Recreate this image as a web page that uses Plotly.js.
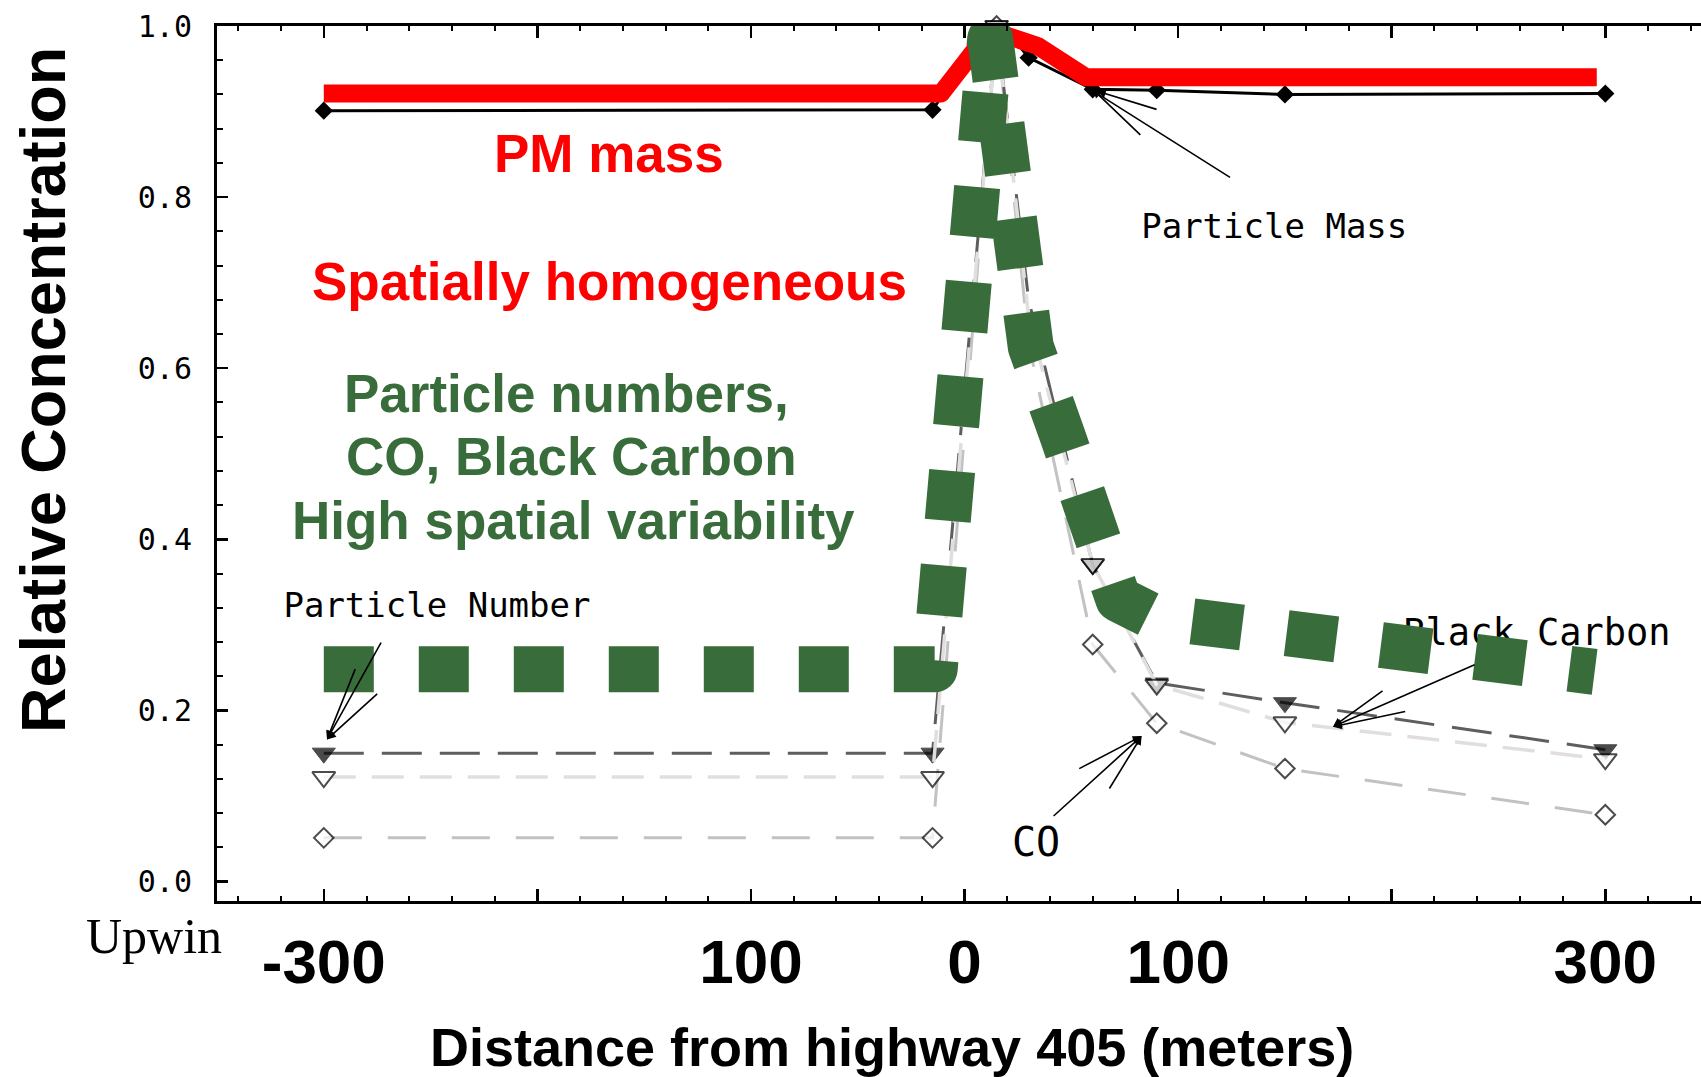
<!DOCTYPE html>
<html>
<head>
<meta charset="utf-8">
<script src="https://cdn.plot.ly/plotly-3.0.1.min.js"></script>
<style>
html,body{margin:0;padding:0;background:#ffffff;}
#chart{width:1701px;height:1077px;}
</style>
</head>
<body>
<div id="chart"></div>
<script>
// ---- data ----
const distance = [-300, -15, 15, 30, 60, 90, 150, 300];
const particleMass = [0.901, 0.902, 1.01, 0.963, 0.926, 0.925, 0.920, 0.921];
const particleNumber = [0.150, 0.150, 1.0, 0.68, 0.370, 0.232, 0.209, 0.154];
const blackCarbon = [0.122, 0.122, 1.0, 0.66, 0.371, 0.230, 0.186, 0.143];
const carbonMonoxide = [0.051, 0.051, 1.0, 0.63, 0.277, 0.185, 0.132, 0.078];

// hand-drawn highlight curves
const pmHighlightX = [-300, -11, 12, 34, 57, 296];
const pmHighlightY = [0.921, 0.921, 0.995, 0.977, 0.940, 0.940];
const ufpHighlightX = [-300, -14, 12, 17, 23, 31, 46, 59, 72, 88, 125, 168, 211, 255, 295];
const ufpHighlightY = [0.248, 0.248, 0.985, 0.86, 0.735, 0.625, 0.52, 0.415, 0.33, 0.31, 0.297, 0.284, 0.272, 0.258, 0.245];

const xTickVals = [-300, -200, -100, 0, 100, 200, 300];
const xTickText = ['-300', '', '100', '0', '100', '', '300'];
const yTickVals = [0, 0.2, 0.4, 0.6, 0.8, 1.0];
const yTickText = ['0.0', '0.2', '0.4', '0.6', '0.8', '1.0'];

const seriesLabels = ['Particle Mass', 'Particle Number', 'Black Carbon', 'CO'];

// ---- styles ----
const GREEN = '#386c3b';
const RED = '#ff0000';
const SANS = 'Liberation Sans, Arial, sans-serif';
const MONO = 'DejaVu Sans Mono, monospace';
// markers at the 30 m point of the thin gas/number series are hidden in the reference
const hiddenAt30 = function (s) { return distance.map(function (d) { return d === 30 ? 0 : s; }); };

const traces = [
  {
    x: distance, y: carbonMonoxide, mode: 'lines+markers', cliponaxis: false,
    line: {color: '#c2c2c2', width: 3, dash: '38px,26px'},
    marker: {symbol: 'diamond', size: hiddenAt30(15), color: '#ffffff', line: {color: '#000000', width: 2}}
  },
  {
    x: distance, y: particleNumber, mode: 'lines+markers', cliponaxis: false,
    line: {color: '#5e5e5e', width: 3, dash: '40px,18px'},
    marker: {symbol: 'triangle-down', size: hiddenAt30(20), color: '#000000', line: {color: '#000000', width: 1}}
  },
  {
    x: distance, y: blackCarbon, mode: 'lines+markers', cliponaxis: false,
    line: {color: '#e2dede', width: 3.5, dash: '32px,16px'},
    marker: {symbol: 'triangle-down', size: hiddenAt30(20), color: '#ffffff', line: {color: '#000000', width: 2}}
  },
  {
    x: distance, y: particleMass, mode: 'lines+markers', cliponaxis: false,
    line: {color: '#000000', width: 3},
    marker: {symbol: 'diamond', size: 14, color: '#000000'}
  },
  {
    x: [145, -247, 268, 33.5], y: [0.762, 0.319, 0.287, 0.042],
    mode: 'text', text: seriesLabels, textposition: 'middle center', cliponaxis: false,
    textfont: {family: MONO, size: [34, 34, 37, 40], color: '#000000'}
  },
  {
    x: pmHighlightX, y: pmHighlightY, mode: 'lines', cliponaxis: false,
    line: {color: RED, width: 18}
  },
  {
    x: ufpHighlightX, y: ufpHighlightY, mode: 'lines', cliponaxis: false,
    line: {color: GREEN, width: 46, dash: '50px,45px'}
  }
];

function txt(text, x, y, color, size) {
  return {text: text, x: x, y: y, xref: 'x', yref: 'y', showarrow: false,
    xanchor: 'center', yanchor: 'middle',
    font: {family: SANS, size: size, color: color, weight: 'bold'}};
}
function arrow(tipX, tipY, tailX, tailY) {
  return {text: '', x: tipX, y: tipY, ax: tailX, ay: tailY, xref: 'x', yref: 'y',
    axref: 'x', ayref: 'y', showarrow: true, arrowhead: 2, arrowsize: 1.1,
    arrowwidth: 1.6, arrowcolor: '#000000', standoff: 0, startstandoff: 0};
}

const annotations = [
  txt('PM mass', -166.4, 0.851, RED, 53),
  txt('Spatially homogeneous', -166.4, 0.701, RED, 53),
  txt('Particle numbers,', -186.6, 0.570, GREEN, 53),
  txt('CO, Black Carbon', -183.8, 0.497, GREEN, 53),
  txt('High spatial variability', -183.3, 0.422, GREEN, 53),
  // Particle Mass fan
  arrow(57.8, 0.928, 125, 0.822),
  arrow(60, 0.926, 83, 0.871),
  arrow(62, 0.924, 90.6, 0.902),
  // Particle Number fan
  arrow(-298.5, 0.166, -272.8, 0.281),
  arrow(-298.5, 0.166, -274.3, 0.221),
  arrow(-298.5, 0.166, -285, 0.25),
  // Black Carbon fan
  arrow(172.5, 0.181, 239.5, 0.254),
  arrow(172.5, 0.181, 196.4, 0.224),
  arrow(172.5, 0.181, 207, 0.199),
  // CO fan
  arrow(82.9, 0.17, 41, 0.075),
  arrow(82.9, 0.17, 53, 0.131),
  arrow(82.9, 0.17, 67.4, 0.107),
  // axis titles and extra text
  {text: 'Relative Concentration', x: -0.1173, y: 0.584, xref: 'paper', yref: 'paper',
    showarrow: false, textangle: -90, xanchor: 'center', yanchor: 'middle',
    font: {family: SANS, size: 63, color: '#000000', weight: 'bold'}},
  {text: 'Distance from highway 405 (meters)', x: 0.4549, y: -0.1669, xref: 'paper', yref: 'paper',
    showarrow: false, xanchor: 'center', yanchor: 'middle',
    font: {family: SANS, size: 54, color: '#000000', weight: 'bold'}},
  {text: 'Upwin', x: -0.0895, y: -0.006, xref: 'paper', yref: 'paper',
    showarrow: false, xanchor: 'left', yanchor: 'top',
    font: {family: 'Liberation Serif, Times New Roman, serif', size: 50, color: '#000000'}}
];

const layout = {
  width: 1701, height: 1077,
  margin: {l: 217, r: 0, t: 26, b: 176, pad: 0},
  paper_bgcolor: '#ffffff', plot_bgcolor: '#ffffff',
  showlegend: false, hovermode: false,
  xaxis: {
    range: [-350, 344.8], showline: true, linewidth: 3, linecolor: '#000000',
    mirror: 'allticks', ticks: 'inside', ticklen: 12, tickwidth: 2.5, tickcolor: '#000000',
    tickmode: 'array', tickvals: xTickVals, ticktext: xTickText,
    tickfont: {family: SANS, size: 62, color: '#000000', weight: 'bold'},
    ticklabelstandoff: 5,
    minor: {tickmode: 'linear', tick0: 0, dtick: 20, ticks: 'inside', ticklen: 5, tickwidth: 2, tickcolor: '#000000', showgrid: false},
    showgrid: false, zeroline: false, fixedrange: true
  },
  yaxis: {
    range: [-0.0228, 1.0], showline: true, linewidth: 3, linecolor: '#000000',
    ticks: 'inside', ticklen: 11, tickwidth: 2.5, tickcolor: '#000000',
    tickmode: 'array', tickvals: yTickVals, ticktext: yTickText,
    tickfont: {family: MONO, size: 30, color: '#000000'},
    ticklabelstandoff: 16,
    minor: {tickmode: 'linear', tick0: 0, dtick: 0.04, ticks: 'inside', ticklen: 6, tickwidth: 2, tickcolor: '#000000', showgrid: false},
    showgrid: false, zeroline: false, fixedrange: true
  },
  annotations: annotations
};

Plotly.newPlot('chart', traces, layout, {staticPlot: true, displayModeBar: false}).then(function (gd) {
  const groups = gd.querySelectorAll('.scatterlayer .trace');
  groups.forEach(function (g, i) {
    if (i >= 5) {
      g.querySelectorAll('path.js-line').forEach(function (p) { p.style.strokeLinejoin = 'round'; });
    }
  });
});
</script>
</body>
</html>
